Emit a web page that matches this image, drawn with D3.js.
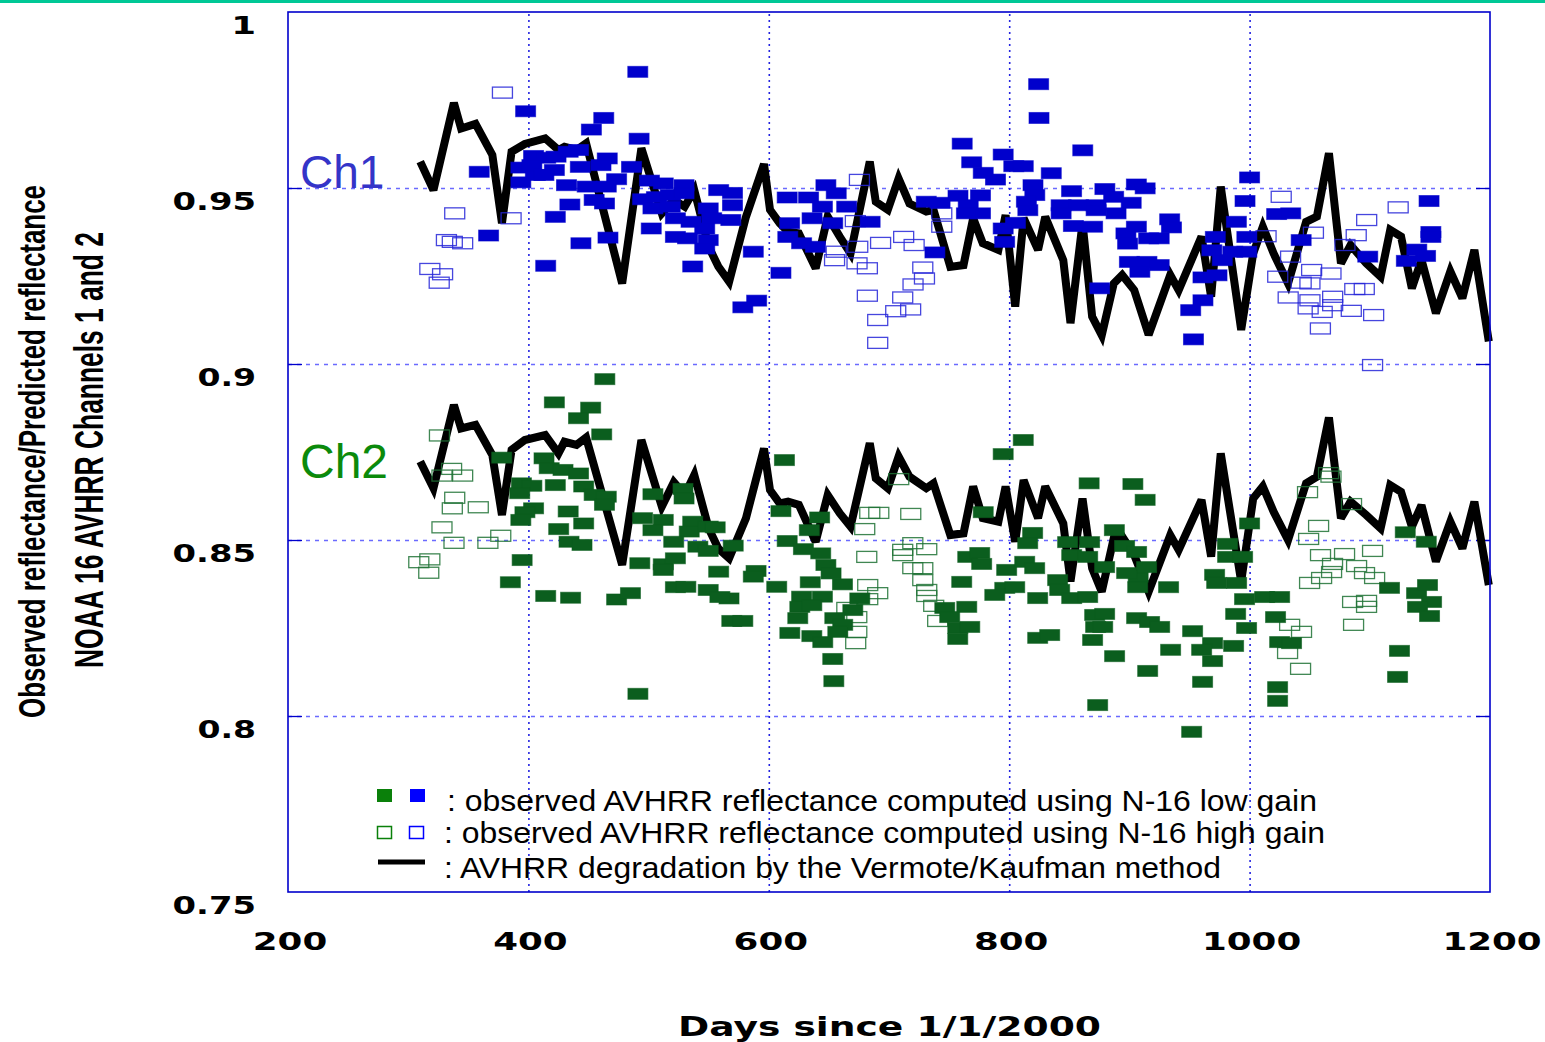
<!DOCTYPE html>
<html>
<head>
<meta charset="utf-8">
<script src="https://cdn.jsdelivr.net/npm/d3@7"></script>
<style>
  body { margin: 0; background: #fff; }
  svg { display: block; }
</style>
</head>
<body>
<div id="chart"></div>
<script>
// Axis ticks
const xTicks = [200, 400, 600, 800, 1000, 1200];
const xTickLabels = ['200', '400', '600', '800', '1000', '1200'];
const yTicks = [1, 0.95, 0.9, 0.85, 0.8, 0.75];
const yTickLabels = ['1', '0.95', '0.9', '0.85', '0.8', '0.75'];
const gridX = [400, 600, 800, 1000];
const gridY = [0.95, 0.9, 0.85, 0.8];

// Vermote/Kaufman degradation (days since 1/1/2000)
const lineDays = [310, 321, 338, 344, 356, 370, 378, 386, 397, 414, 425, 430, 440, 448, 478, 494, 511, 521, 530, 538,
    550, 558, 567, 581, 596, 601, 609, 616, 625, 639, 649, 659, 668, 684, 689, 699, 708, 717, 731, 737,
    751, 762, 770, 778, 791, 797, 805, 812, 824, 830, 845, 851, 861, 869, 877, 887, 894, 904, 916, 934,
    941, 960, 968, 976, 993, 1003, 1011, 1020, 1032, 1047, 1056, 1066, 1076, 1084, 1097, 1109, 1117, 1126, 1135, 1143,
    1155, 1167, 1177, 1187, 1199];
const ch1Line = [0.9575, 0.9494, 0.9742, 0.9669, 0.9682, 0.9594, 0.9400, 0.9603, 0.9625, 0.9641, 0.9608, 0.9617, 0.9608, 0.9627, 0.9229, 0.9613, 0.9428, 0.9466, 0.9447, 0.9494,
    0.9333, 0.9277, 0.9234, 0.9418, 0.9568, 0.9438, 0.9400, 0.9376, 0.9371, 0.9272, 0.9419, 0.9362, 0.9314, 0.9575, 0.9461, 0.9438, 0.9527, 0.9456, 0.9433, 0.9438,
    0.9276, 0.9281, 0.9414, 0.9343, 0.9324, 0.9423, 0.9163, 0.9414, 0.9324, 0.9418, 0.9295, 0.9116, 0.9400, 0.9135, 0.9082, 0.9229, 0.9253, 0.9210, 0.9083, 0.9253,
    0.9210, 0.9362, 0.9191, 0.9504, 0.9097, 0.9314, 0.9390, 0.9314, 0.9229, 0.9404, 0.9419, 0.9599, 0.9286, 0.9338, 0.9286, 0.9248, 0.9381, 0.9362, 0.9215, 0.9296,
    0.9144, 0.9263, 0.9187, 0.9324, 0.9064];
const ch2Line = [0.8723, 0.8647, 0.8884, 0.8817, 0.8827, 0.8741, 0.8571, 0.8756, 0.8784, 0.8798, 0.8746, 0.8779, 0.8770, 0.8791, 0.8429, 0.8784, 0.8595, 0.8664, 0.8628, 0.8685,
    0.8533, 0.8476, 0.8448, 0.8562, 0.8760, 0.8642, 0.8604, 0.8609, 0.8600, 0.8495, 0.8628, 0.8576, 0.8538, 0.8775, 0.8675, 0.8647, 0.8737, 0.8680, 0.8647, 0.8661,
    0.8514, 0.8519, 0.8652, 0.8562, 0.8552, 0.8652, 0.8495, 0.8670, 0.8562, 0.8652, 0.8547, 0.8382, 0.8618, 0.8420, 0.8353, 0.8505, 0.8510, 0.8457, 0.8353, 0.8514,
    0.8472, 0.8614, 0.8453, 0.8746, 0.8382, 0.8618, 0.8652, 0.8580, 0.8500, 0.8661, 0.8680, 0.8848, 0.8562, 0.8609, 0.8571, 0.8533, 0.8656, 0.8637, 0.8538, 0.8599,
    0.8439, 0.8552, 0.8476, 0.8609, 0.8372];

// Ch1 observed, low gain [day, ratio]
const ch1Low = [[397.7, 0.9718], [462.7, 0.9699], [452.4, 0.9666], [492.1, 0.9640], [359.1, 0.9546], [393.7, 0.9558], [393.7, 0.9516], [404.3, 0.9591],
    [414.4, 0.9586], [423.0, 0.9589], [433.1, 0.9603], [441.7, 0.9608], [443.2, 0.9560], [421.6, 0.9551], [405.8, 0.9537], [431.7, 0.9508],
    [448.9, 0.9504], [465.6, 0.9584], [460.4, 0.9565], [473.4, 0.9525], [464.8, 0.9504], [454.7, 0.9466], [463.3, 0.9456], [434.5, 0.9453],
    [422.4, 0.9418], [366.9, 0.9365], [443.7, 0.9343], [466.2, 0.9359], [414.4, 0.9279], [485.8, 0.9560], [500.7, 0.9521], [512.2, 0.9513],
    [529.5, 0.9508], [495.0, 0.9468], [506.5, 0.9474], [518.0, 0.9480], [503.6, 0.9442], [518.0, 0.9447], [529.5, 0.9485], [522.3, 0.9414],
    [535.3, 0.9404], [502.2, 0.9385], [522.3, 0.9361], [532.4, 0.9357], [549.6, 0.9442], [558.3, 0.9494], [569.8, 0.9486], [569.8, 0.9451],
    [552.5, 0.9414], [568.4, 0.9409], [546.7, 0.9385], [549.6, 0.9352], [546.7, 0.9328], [536.7, 0.9277], [587.1, 0.9319], [578.4, 0.9161],
    [589.9, 0.9180], [610.1, 0.9259], [615.3, 0.9473], [617.3, 0.9400], [633.1, 0.9473], [647.5, 0.9508], [656.1, 0.9485], [644.6, 0.9447],
    [664.8, 0.9447], [636.0, 0.9414], [653.2, 0.9400], [615.8, 0.9361], [627.3, 0.9343], [638.8, 0.9333], [684.3, 0.9404], [731.0, 0.9461],
    [742.5, 0.9458], [738.2, 0.9317], [402.9, 0.9565], [412.9, 0.9537], [491.0, 0.9830], [824.5, 0.9795],
    [760.9, 0.9626], [824.8, 0.9699], [768.8, 0.9573], [795.0, 0.9595], [803.8, 0.9562], [811.7, 0.9562], [778.4, 0.9543], [788.6, 0.9524],
    [861.2, 0.9607], [835.0, 0.9542], [757.4, 0.9478], [776.1, 0.9479], [765.9, 0.9451], [776.1, 0.9428], [764.4, 0.9428], [819.8, 0.9508],
    [821.3, 0.9480], [814.3, 0.9461], [815.5, 0.9437], [795.0, 0.9385], [805.2, 0.9401], [796.2, 0.9347], [851.9, 0.9491], [879.6, 0.9497],
    [905.8, 0.9510], [913.1, 0.9499], [843.2, 0.9451], [857.7, 0.9451], [872.3, 0.9451], [886.9, 0.9475], [901.5, 0.9458], [843.2, 0.9428],
    [872.3, 0.9437], [888.9, 0.9428], [853.4, 0.9392], [869.4, 0.9390], [897.1, 0.9371], [898.5, 0.9342], [905.8, 0.9390], [916.0, 0.9357],
    [924.8, 0.9357], [933.5, 0.9411], [935.0, 0.9388], [900.0, 0.9290], [914.6, 0.9290], [924.8, 0.9281], [908.7, 0.9262], [875.2, 0.9215],
    [961.2, 0.9246], [961.2, 0.9181], [951.0, 0.9153], [953.3, 0.9070], [971.5, 0.9361], [968.6, 0.9323], [977.3, 0.9295], [972.9, 0.9252],
    [989.0, 0.9404], [996.2, 0.9463], [1000.0, 0.9530], [986.0, 0.9319], [997.7, 0.9361], [997.7, 0.9319], [1022.5, 0.9426], [1034.2, 0.9428],
    [1042.9, 0.9352], [1098.3, 0.9305], [1149.3, 0.9463], [1150.8, 0.9375], [1150.8, 0.9361], [1139.1, 0.9325], [1146.4, 0.9307], [1130.4, 0.9293]];

// Ch1 observed, high gain
const ch1High = [[378.4, 0.9771], [338.7, 0.9428], [336.7, 0.9347], [345.3, 0.9343], [331.8, 0.9352], [318.0, 0.9270], [328.6, 0.9255], [325.8, 0.9231],
    [385.6, 0.9414], [675.4, 0.9523], [672.0, 0.9406], [674.0, 0.9333], [654.7, 0.9295], [673.4, 0.9286], [682.0, 0.9272], [693.0, 0.9344],
    [712.2, 0.9361], [720.9, 0.9338], [728.1, 0.9274], [729.5, 0.9243], [720.0, 0.9226], [711.4, 0.9189], [682.0, 0.9194], [718.0, 0.9155],
    [705.6, 0.9150], [690.6, 0.9125], [690.6, 0.9060], [743.9, 0.9390], [743.9, 0.9428], [656.1, 0.9319],
    [1026.3, 0.9475], [1013.7, 0.9363], [1034.1, 0.9305], [1023.4, 0.9248], [1051.6, 0.9267], [1042.9, 0.9231], [1050.2, 0.9229], [1067.7, 0.9257],
    [1053.1, 0.9373], [1079.3, 0.9338], [1088.7, 0.9366], [1097.4, 0.9409], [1123.6, 0.9445], [1087.5, 0.9213], [1095.4, 0.9213], [1032.1, 0.9189],
    [1050.2, 0.9181], [1048.7, 0.9158], [1060.4, 0.9148], [1069.1, 0.9167], [1084.6, 0.9151], [1103.2, 0.9139], [1058.9, 0.9101], [1069.1, 0.9191],
    [1102.3, 0.8997]];

// Ch2 observed, low gain
const ch2Low = [[421.6, 0.8891], [451.8, 0.8876], [441.7, 0.8846], [461.0, 0.8800], [377.8, 0.8734], [413.0, 0.8732], [417.3, 0.8704], [428.8, 0.8699],
    [441.7, 0.8689], [394.2, 0.8661], [402.9, 0.8654], [422.4, 0.8656], [446.0, 0.8652], [392.8, 0.8633], [454.7, 0.8628], [464.8, 0.8623],
    [463.3, 0.8600], [404.3, 0.8590], [397.1, 0.8579], [393.7, 0.8557], [433.1, 0.8581], [446.0, 0.8547], [425.2, 0.8531], [433.8, 0.8495],
    [444.6, 0.8486], [503.6, 0.8630], [528.6, 0.8645], [529.5, 0.8618], [495.0, 0.8562], [512.2, 0.8557], [503.6, 0.8528], [536.7, 0.8552],
    [533.8, 0.8524], [549.6, 0.8538], [555.4, 0.8536], [520.9, 0.8495], [541.0, 0.8481], [549.6, 0.8469], [570.4, 0.8484], [394.8, 0.8443],
    [385.0, 0.8380], [414.4, 0.8341], [435.1, 0.8336], [473.4, 0.8331], [484.9, 0.8349], [492.7, 0.8434], [512.2, 0.8431], [522.3, 0.8448],
    [512.2, 0.8415], [558.3, 0.8410], [522.3, 0.8366], [531.0, 0.8367], [549.6, 0.8358], [566.9, 0.8334], [589.4, 0.8412], [587.1, 0.8396],
    [613.0, 0.8727], [610.1, 0.8582], [615.3, 0.8497], [628.8, 0.8474], [643.2, 0.8462], [647.5, 0.8429], [651.8, 0.8405], [642.3, 0.8564],
    [633.7, 0.8528], [606.6, 0.8367], [634.5, 0.8380], [661.3, 0.8374], [627.3, 0.8339], [644.6, 0.8339], [675.7, 0.8334], [463.6, 0.8957],
    [491.1, 0.8063],
    [625.8, 0.8310], [635.8, 0.8315], [669.9, 0.8301], [654.9, 0.8278], [624.1, 0.8278], [617.5, 0.8236], [635.8, 0.8227], [644.9, 0.8210],
    [661.5, 0.8259], [657.4, 0.8239], [653.2, 0.8162], [654.1, 0.8099], [569.2, 0.8270], [578.4, 0.8270], [559.3, 0.8338], [765.5, 0.8452],
    [775.5, 0.8463], [777.1, 0.8432], [760.5, 0.8381], [797.9, 0.8415], [812.9, 0.8438], [821.2, 0.8420], [796.3, 0.8364], [804.6, 0.8366],
    [788.0, 0.8344], [823.7, 0.8335], [819.5, 0.8520], [815.4, 0.8491], [840.3, 0.8386], [842.0, 0.8358], [852.0, 0.8335], [865.3, 0.8338],
    [848.6, 0.8494], [852.0, 0.8457], [866.9, 0.8494], [865.3, 0.8452], [746.4, 0.8307], [764.7, 0.8310], [750.5, 0.8281], [757.2, 0.8250],
    [757.2, 0.8219], [767.2, 0.8253], [823.7, 0.8222], [833.7, 0.8230], [871.1, 0.8287], [871.9, 0.8253], [869.4, 0.8216], [873.6, 0.8031],
    [811.7, 0.8784], [795.0, 0.8744], [866.5, 0.8661], [902.9, 0.8659], [913.1, 0.8614], [778.4, 0.8579], [887.5, 0.8528], [1000.0, 0.8547],
    [981.6, 0.8489], [1129.5, 0.8522], [1147.0, 0.8495], [907.3, 0.8396],
    [896.0, 0.8483], [906.0, 0.8466], [879.4, 0.8423], [914.3, 0.8423], [897.7, 0.8406], [906.9, 0.8366], [932.6, 0.8366], [879.4, 0.8290],
    [877.8, 0.8253], [887.7, 0.8170], [906.0, 0.8278], [916.8, 0.8267], [925.2, 0.8253], [934.3, 0.8188], [952.6, 0.8241], [969.2, 0.8207],
    [960.1, 0.8188], [969.2, 0.8156], [915.2, 0.8128], [960.9, 0.8097], [951.8, 0.7955], [981.7, 0.8452], [994.2, 0.8452], [970.9, 0.8401],
    [972.6, 0.8378], [989.2, 0.8378], [995.8, 0.8332], [1012.5, 0.8338], [1025.0, 0.8338], [988.4, 0.8290], [997.5, 0.8250], [986.7, 0.8199],
    [1021.6, 0.8281], [1025.0, 0.8210], [1034.9, 0.8207], [1023.3, 0.8082], [1023.3, 0.8043], [1116.4, 0.8364], [1138.9, 0.8349], [1148.0, 0.8372],
    [1151.4, 0.8324], [1139.7, 0.8310], [1149.7, 0.8284], [1124.7, 0.8185], [1123.1, 0.8111]];

// Ch2 observed, high gain
const ch2High = [[326.0, 0.8797], [336.1, 0.8702], [328.1, 0.8683], [345.3, 0.8683], [338.7, 0.8620], [336.7, 0.8590], [358.3, 0.8593], [328.1, 0.8536],
    [338.1, 0.8492], [366.3, 0.8492], [377.0, 0.8512], [318.0, 0.8445], [308.8, 0.8437], [317.1, 0.8407],
    [708.1, 0.8673], [691.5, 0.8577], [684.0, 0.8577], [718.1, 0.8574], [679.8, 0.8531], [681.5, 0.8452], [711.4, 0.8472], [731.4, 0.8474],
    [719.8, 0.8491], [711.4, 0.8457], [719.8, 0.8420], [728.1, 0.8420], [728.1, 0.8386], [731.4, 0.8358], [731.4, 0.8341], [682.3, 0.8372],
    [690.6, 0.8349], [682.3, 0.8332], [664.9, 0.8307], [673.2, 0.8281], [737.2, 0.8313], [740.5, 0.8270], [673.2, 0.8239], [672.3, 0.8207],
    [1065.7, 0.8690], [1067.7, 0.8680], [1048.2, 0.8636], [1084.8, 0.8602], [1057.4, 0.8540], [1049.1, 0.8503], [1059.0, 0.8457], [1079.0, 0.8460],
    [1102.3, 0.8469], [1069.0, 0.8432], [1089.0, 0.8426], [1095.6, 0.8406], [1068.2, 0.8409], [1059.9, 0.8392], [1049.9, 0.8378], [1104.0, 0.8392],
    [1085.7, 0.8324], [1097.3, 0.8327], [1097.3, 0.8310], [1086.5, 0.8259], [1033.3, 0.8259], [1043.2, 0.8239], [1031.6, 0.8179], [1042.4, 0.8134]];

const legendRows = [
    ': observed AVHRR reflectance computed using N-16 low gain',
    ': observed AVHRR reflectance computed using N-16 high gain',
    ': AVHRR degradation by the Vermote/Kaufman method'
];

const width = 1545,
    height = 1042,
    plotLeft = 288,
    plotRight = 1490,
    plotTop = 12,
    plotBottom = 892;

const blue = '#0000cc',
    green = '#0b5e1e';

const svg = d3.select('#chart')
    .append('svg')
    .attr('width', width)
    .attr('height', height);

// Scales
const xScale = d3.scaleLinear().domain([200, 1200]).range([plotLeft, plotRight]);
const yScale = d3.scaleLinear().domain([0.75, 1]).range([plotBottom, plotTop]);

// teal rule at the very top
svg.append('rect')
    .attr('x', 0).attr('y', 0)
    .attr('width', width).attr('height', 3)
    .attr('fill', '#00c896');

// Grid
svg.append('g')
    .attr('transform', 'translate(' + plotLeft + ',0)')
    .call(d3.axisLeft(yScale).tickValues(gridY).tickSize(-(plotRight - plotLeft)).tickFormat(''))
    .call(g => g.select('.domain').remove())
    .selectAll('line')
    .attr('stroke', '#6a6aff')
    .attr('stroke-width', 1.3)
    .attr('stroke-dasharray', '4,5');

svg.append('g')
    .attr('transform', 'translate(0,' + plotBottom + ')')
    .call(d3.axisBottom(xScale).tickValues(gridX).tickSize(-(plotBottom - plotTop)).tickFormat(''))
    .call(g => g.select('.domain').remove())
    .selectAll('line')
    .attr('stroke', '#2424e0')
    .attr('stroke-width', 1.6)
    .attr('stroke-dasharray', '2,4');

// small inner ticks on left and right borders
svg.append('g')
    .attr('transform', 'translate(' + plotLeft + ',0)')
    .call(d3.axisRight(yScale).tickValues(gridY).tickSize(14).tickFormat(''))
    .call(g => g.select('.domain').remove())
    .selectAll('line').attr('stroke', blue).attr('stroke-width', 1.3);

svg.append('g')
    .attr('transform', 'translate(' + plotRight + ',0)')
    .call(d3.axisLeft(yScale).tickValues(gridY).tickSize(14).tickFormat(''))
    .call(g => g.select('.domain').remove())
    .selectAll('line').attr('stroke', blue).attr('stroke-width', 1.3);

// Vermote/Kaufman lines
const line = d3.line()
    .x((d, i) => xScale(lineDays[i]))
    .y(d => yScale(d));

[ch1Line, ch2Line].forEach(series => {
    svg.append('path')
        .datum(series)
        .attr('d', line)
        .attr('fill', 'none')
        .attr('stroke', '#000')
        .attr('stroke-width', 8)
        .attr('stroke-linejoin', 'miter')
        .attr('stroke-miterlimit', 3);
});

// Observations
function drawMarkers(data, color, filled) {
    svg.append('g')
        .selectAll('rect')
        .data(data)
        .enter()
        .append('rect')
        .attr('x', d => xScale(d[0]) - 10)
        .attr('y', d => yScale(d[1]) - 5.5)
        .attr('width', 20)
        .attr('height', 11)
        .attr('fill', filled ? color : 'none')
        .attr('stroke', color)
        .attr('stroke-opacity', filled ? 0.6 : 0.85)
        .attr('stroke-width', filled ? 1 : 1.3);
}

drawMarkers(ch1High, '#2626d8', false);
drawMarkers(ch2High, '#1f7235', false);
drawMarkers(ch1Low, blue, true);
drawMarkers(ch2Low, green, true);

// Plot border
svg.append('rect')
    .attr('x', plotLeft).attr('y', plotTop)
    .attr('width', plotRight - plotLeft).attr('height', plotBottom - plotTop)
    .attr('fill', 'none')
    .attr('stroke', blue)
    .attr('stroke-width', 1.6);

// Tick labels (wide bold face)
const tickFont = '"DejaVu Sans", sans-serif';

function labelWidth(s) {
    return s.split('').reduce((w, c) => w + (c === '.' ? 9 : 24.8), 0);
}

svg.append('g')
    .selectAll('text')
    .data(yTicks)
    .enter()
    .append('text')
    .attr('x', (d, i) => 256 - labelWidth(yTickLabels[i]))
    .attr('y', d => yScale(d) + 22)
    .attr('textLength', (d, i) => labelWidth(yTickLabels[i]))
    .attr('lengthAdjust', 'spacingAndGlyphs')
    .style('font-family', tickFont)
    .style('font-weight', 'bold')
    .style('font-size', '25px')
    .text((d, i) => yTickLabels[i]);

svg.append('g')
    .selectAll('text')
    .data(xTicks)
    .enter()
    .append('text')
    .attr('x', (d, i) => xScale(d) + 2 - labelWidth(xTickLabels[i]) / 2)
    .attr('y', 950)
    .attr('textLength', (d, i) => labelWidth(xTickLabels[i]))
    .attr('lengthAdjust', 'spacingAndGlyphs')
    .style('font-family', tickFont)
    .style('font-weight', 'bold')
    .style('font-size', '25px')
    .text((d, i) => xTickLabels[i]);

// Axis titles
svg.append('text')
    .attr('x', 678)
    .attr('y', 1036)
    .attr('textLength', 423)
    .attr('lengthAdjust', 'spacingAndGlyphs')
    .style('font-family', tickFont)
    .style('font-weight', 'bold')
    .style('font-size', '26px')
    .text('Days since 1/1/2000');

const yTitle = svg.append('g')
    .style('font-family', '"Liberation Sans", Arial, sans-serif')
    .style('font-weight', 'bold');

yTitle.append('text')
    .attr('transform', 'translate(45,718) rotate(-90)')
    .attr('textLength', 533)
    .attr('lengthAdjust', 'spacingAndGlyphs')
    .style('font-size', '37px')
    .text('Observed reflectance/Predicted reflectance');

yTitle.append('text')
    .attr('transform', 'translate(103,668) rotate(-90)')
    .attr('textLength', 436)
    .attr('lengthAdjust', 'spacingAndGlyphs')
    .style('font-size', '40px')
    .text('NOAA 16 AVHRR Channels 1 and 2');

// Channel labels
svg.append('text')
    .attr('x', 300).attr('y', 188)
    .style('font-family', '"Liberation Sans", Arial, sans-serif')
    .style('font-size', '46px')
    .attr('fill', '#3434c8')
    .text('Ch1');

svg.append('text')
    .attr('x', 300).attr('y', 478)
    .style('font-family', '"Liberation Sans", Arial, sans-serif')
    .style('font-size', '48px')
    .attr('fill', '#0b8a0b')
    .text('Ch2');

// Legend
const legend = svg.append('g');

legend.append('rect').attr('x', 377).attr('y', 789).attr('width', 15).attr('height', 13).attr('fill', '#0a800a');
legend.append('rect').attr('x', 410).attr('y', 789).attr('width', 15).attr('height', 13).attr('fill', '#0000ff');
legend.append('rect').attr('x', 377.5).attr('y', 826.5).attr('width', 14).attr('height', 12)
    .attr('fill', 'none').attr('stroke', '#0a800a').attr('stroke-width', 1.5);
legend.append('rect').attr('x', 409.5).attr('y', 826.5).attr('width', 14).attr('height', 12)
    .attr('fill', 'none').attr('stroke', '#0000ff').attr('stroke-width', 1.5);
legend.append('line').attr('x1', 378).attr('x2', 425).attr('y1', 862).attr('y2', 862)
    .attr('stroke', '#000').attr('stroke-width', 5);

const legendX = [447, 444, 444],
    legendY = [811, 843, 878],
    legendLen = [870, 881, 777];

legend.selectAll('text')
    .data(legendRows)
    .enter()
    .append('text')
    .attr('x', (d, i) => legendX[i])
    .attr('y', (d, i) => legendY[i])
    .attr('textLength', (d, i) => legendLen[i])
    .attr('lengthAdjust', 'spacingAndGlyphs')
    .style('font-family', '"Liberation Sans", Arial, sans-serif')
    .style('font-size', '29px')
    .text(d => d);
</script>
</body>
</html>
